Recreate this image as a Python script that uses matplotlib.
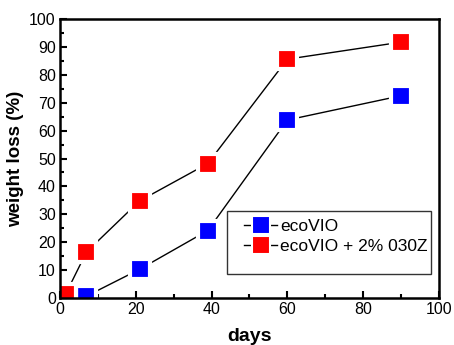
import numpy as np, matplotlib
matplotlib.use("Agg")
import matplotlib.pyplot as plt
from matplotlib.ticker import MultipleLocator
from matplotlib.patches import Rectangle

plt.rcParams["font.family"] = ["Liberation Sans", "DejaVu Sans"]

days_blue = [7, 21, 39, 60, 90]
loss_blue = [0.7, 10.3, 24.2, 63.8, 72.5]
days_red = [1.5, 7, 21, 39, 60, 90]
loss_red = [1.4, 16.5, 34.8, 48.2, 85.6, 91.7]
labels = ["ecoVIO", "ecoVIO + 2% 030Z"]

fig = plt.figure(figsize=(4.54, 3.45), dpi=100)
ax = fig.add_axes([0.132, 0.136, 0.835, 0.809])

kw = dict(marker="s", ms=15, lw=1.0, color="black", mec="white", mew=3)
ax.plot(days_blue, loss_blue, mfc="#0000FF", label=labels[0], **kw)
ax.plot(days_red, loss_red, mfc="#FF0000", label=labels[1], **kw)

ax.set_xlim(0, 100); ax.set_ylim(0, 100)
ax.xaxis.set_major_locator(MultipleLocator(20)); ax.xaxis.set_minor_locator(MultipleLocator(10))
ax.yaxis.set_major_locator(MultipleLocator(10)); ax.yaxis.set_minor_locator(MultipleLocator(5))
ax.tick_params(which="both", direction="in", top=False, right=False, labelsize=11.5, width=1.5)
ax.tick_params(which="major", length=5, pad=3); ax.tick_params(which="minor", length=3)
for s in ax.spines.values(): s.set_linewidth(1.8)

ax.set_xlabel("days", fontsize=14, weight="bold", labelpad=8)
ax.set_ylabel("weight loss (%)", fontsize=13.5, weight="bold", labelpad=4)

# legend box, taller than its two rows
ax.add_patch(Rectangle((0.441, 0.086), 0.538, 0.226, transform=ax.transAxes,
                       fill=False, ec="#333333", lw=1.0, zorder=4))
leg = ax.legend(loc="upper left", bbox_to_anchor=(0.486, 0.285), fontsize=12.5,
                handlelength=1.9, handletextpad=0.15, borderpad=0, labelspacing=0.28,
                frameon=False, borderaxespad=0)
for h in leg.legend_handles:
    h.set_markersize(12.5); h.set_markeredgewidth(1.5)

fig.savefig("out.png", dpi=100)
